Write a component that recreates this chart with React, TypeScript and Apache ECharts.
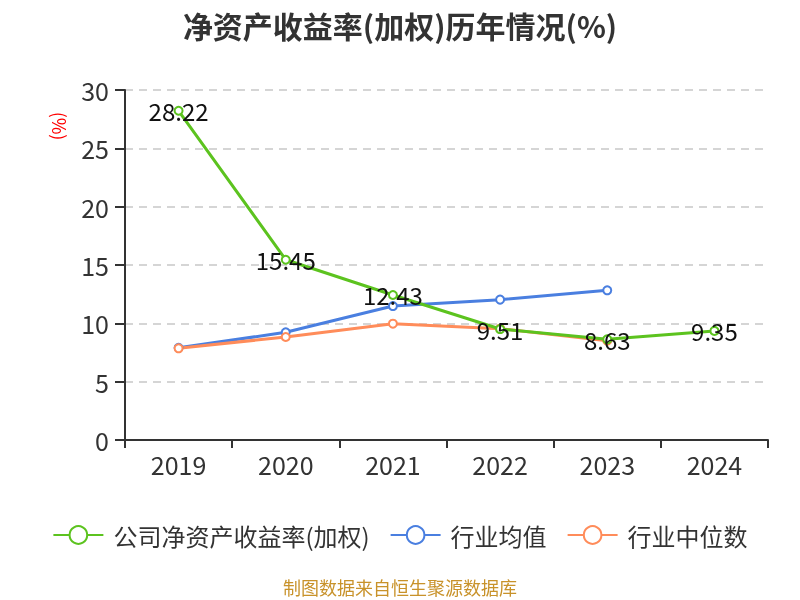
import React, { useEffect, useRef } from "react";
import * as echarts from "echarts";

const years = ["2019", "2020", "2021", "2022", "2023", "2024"];
const companyRoe = [28.22, 15.45, 12.43, 9.51, 8.63, 9.35];
const industryAvg = [7.9, 9.23, 11.48, 12.03, 12.83, null];
const industryMedian = [7.86, 8.83, 9.97, 9.54, 8.51, null];

export default function App() {
  const ref = useRef<HTMLDivElement>(null);
  useEffect(() => {
    if (!ref.current) return;
    const chart = echarts.init(ref.current, undefined, { renderer: "svg" });
    const font = "'Noto Sans CJK SC', 'Noto Sans', sans-serif";
    chart.setOption({
      animation: false,
      textStyle: { fontFamily: font },
      title: {
        text: "净资产收益率(加权)历年情况(%)",
        left: "center",
        top: 2,
        textStyle: { fontSize: 30, fontWeight: "bold", color: "#333", fontFamily: font, lineHeight: 36 },
      },
      grid: { left: 125, right: 32, top: 90, bottom: 160 },
      legend: {
        top: 518,
        left: "center",
        itemWidth: 50,
        itemHeight: 22,
        itemGap: 20,
        textStyle: { fontSize: 24, color: "#333", fontFamily: font, padding: [0, 0, 0, 5] },
        data: ["公司净资产收益率(加权)", "行业均值", "行业中位数"],
      },
      graphic: [
        {
          type: "text",
          left: "center",
          top: 578,
          style: { text: "制图数据来自恒生聚源数据库", fill: "#c8922a", fontSize: 18, fontFamily: font },
        },
        {
          type: "text",
          x: 60,
          y: 126,
          rotation: -Math.PI / 2,
          style: { text: "(%)", fill: "red", fontSize: 18, fontFamily: font, align: "center", verticalAlign: "middle" },
        },
      ],
      xAxis: {
        type: "category",
        data: years,
        axisLine: { lineStyle: { color: "#333", width: 2 } },
        axisTick: { show: true, length: 8, lineStyle: { color: "#333", width: 2 } },
        axisLabel: { fontSize: 25, color: "#333", margin: 11 },
      },
      yAxis: {
        type: "value",
        min: 0,
        max: 30,
        interval: 5,
        axisLine: { show: true, lineStyle: { color: "#333", width: 2 } },
        axisTick: { show: true, length: 10, lineStyle: { color: "#333", width: 2 } },
        axisLabel: { fontSize: 25, color: "#333", margin: 16 },
        splitLine: { lineStyle: { type: [8, 6], color: "#c8c8c8", width: 1.5 } },
      },
      series: [
        {
          name: "公司净资产收益率(加权)",
          type: "line",
          data: companyRoe,
          symbol: "emptyCircle",
          symbolSize: 8,
          lineStyle: { width: 3, color: "#5cc31f" },
          itemStyle: { color: "#5cc31f" },
          label: { show: true, position: "inside", fontSize: 24, color: "#111" },
          z: 3,
        },
        {
          name: "行业均值",
          type: "line",
          data: industryAvg,
          symbol: "emptyCircle",
          symbolSize: 8,
          lineStyle: { width: 3, color: "#4a7fe0" },
          itemStyle: { color: "#4a7fe0" },
          z: 2,
        },
        {
          name: "行业中位数",
          type: "line",
          data: industryMedian,
          symbol: "emptyCircle",
          symbolSize: 8,
          lineStyle: { width: 3, color: "#ff8c5a" },
          itemStyle: { color: "#ff8c5a" },
          z: 2,
        },
      ],
    });
    return () => chart.dispose();
  }, []);
  return <div ref={ref} style={{ width: 800, height: 600, position: "fixed", left: 0, top: 0 }} />;
}
